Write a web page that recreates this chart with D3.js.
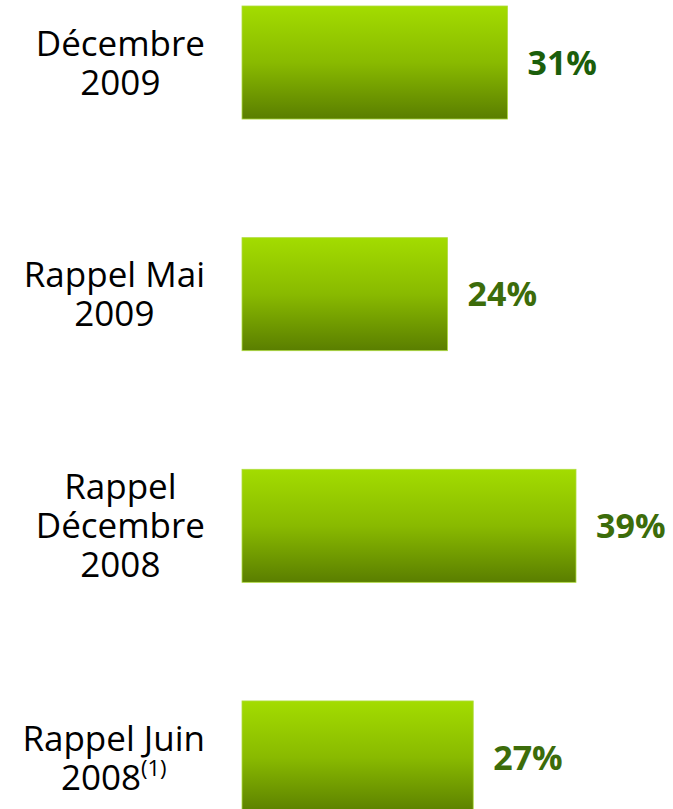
<!DOCTYPE html>
<html lang="fr">
<head>
    <meta charset="UTF-8">
    <title>Barres</title>
    <script src="https://d3js.org/d3.v7.min.js"></script>
    <style>
        body { margin: 0; background: #fff; }
        text { font-family: "Open Sans", sans-serif; }
    </style>
</head>
<body>
    <div id="chart"></div>

    <script>
        // données
        var labels = [
            ["Décembre", "2009"],
            ["Rappel Mai", "2009"],
            ["Rappel", "Décembre", "2008"],
            ["Rappel Juin", "2008"]
        ];
        var notes = ["", "", "", "(1)"];
        var values = [31, 24, 39, 27];
        var valueColors = ["#1b5e0b", "#3c6c0a", "#3c6c0a", "#3c6c0a"];

        var width = 673, height = 809;

        var svg = d3.select("#chart")
          .append("svg")
            .attr("width", width)
            .attr("height", height);

        // dégradé vertical des barres
        var grad = svg.append("defs").append("linearGradient")
            .attr("id", "barGrad")
            .attr("x1", 0).attr("y1", 0).attr("x2", 0).attr("y2", 1);
        grad.append("stop").attr("offset", "0%").attr("stop-color", "#a3dc00");
        grad.append("stop").attr("offset", "50%").attr("stop-color", "#89ba00");
        grad.append("stop").attr("offset", "100%").attr("stop-color", "#5a7e00");

        var idx = d3.range(values.length);

        var y = d3.scaleBand()
            .domain(idx)
            .range([6, 814])
            .paddingInner(0.512);

        var x = d3.scaleLinear()
            .domain([0, 39])
            .range([242, 576]);

        // barres
        svg.append("g")
          .selectAll("rect")
          .data(idx)
          .enter()
          .append("rect")
            .attr("x", x(0))
            .attr("y", function(i) { return y(i); })
            .attr("width", function(i) { return x(values[i]) - x(0); })
            .attr("height", y.bandwidth())
            .attr("fill", "url(#barGrad)")
            .attr("stroke", "#b0dd40")
            .attr("stroke-width", 0.8);

        // valeurs
        svg.append("g")
          .selectAll("text")
          .data(idx)
          .enter()
          .append("text")
            .attr("x", function(i) { return x(values[i]) + 20; })
            .attr("y", function(i) { return y(i) + y.bandwidth() / 2; })
            .attr("dy", "0.36em")
            .style("font-size", "34px")
            .style("font-weight", "bold")
            .style("fill", function(i) { return valueColors[i]; })
            .text(function(i) { return values[i] + "%"; });

        // libellés : un seul <text> par catégorie, une tspan par ligne
        // centrés, la ligne la plus large calée à droite sur x=205
        var lineH = 39;
        idx.forEach(function(i) {
            var lines = labels[i];
            var cy = y(i) + y.bandwidth() / 2;
            var first = cy - (lines.length - 1) * lineH / 2;
            var t = svg.append("text")
                .attr("text-anchor", "middle")
                .style("font-size", "35px")
                .style("fill", "#000");
            var spans = lines.map(function(l, k) {
                var s = t.append("tspan")
                    .attr("y", first + k * lineH)
                    .attr("dy", "0.36em")
                    .text(l);
                if (k === lines.length - 1 && notes[i]) {
                    s.append("tspan")
                        .attr("dy", "-0.62em")
                        .style("font-size", "22px")
                        .text(notes[i]);
                }
                return s;
            });
            var maxW = d3.max(spans, function(s) { return s.node().getComputedTextLength(); });
            spans.forEach(function(s) { s.attr("x", 205 - maxW / 2); });
        });
    </script>
</body>
</html>
